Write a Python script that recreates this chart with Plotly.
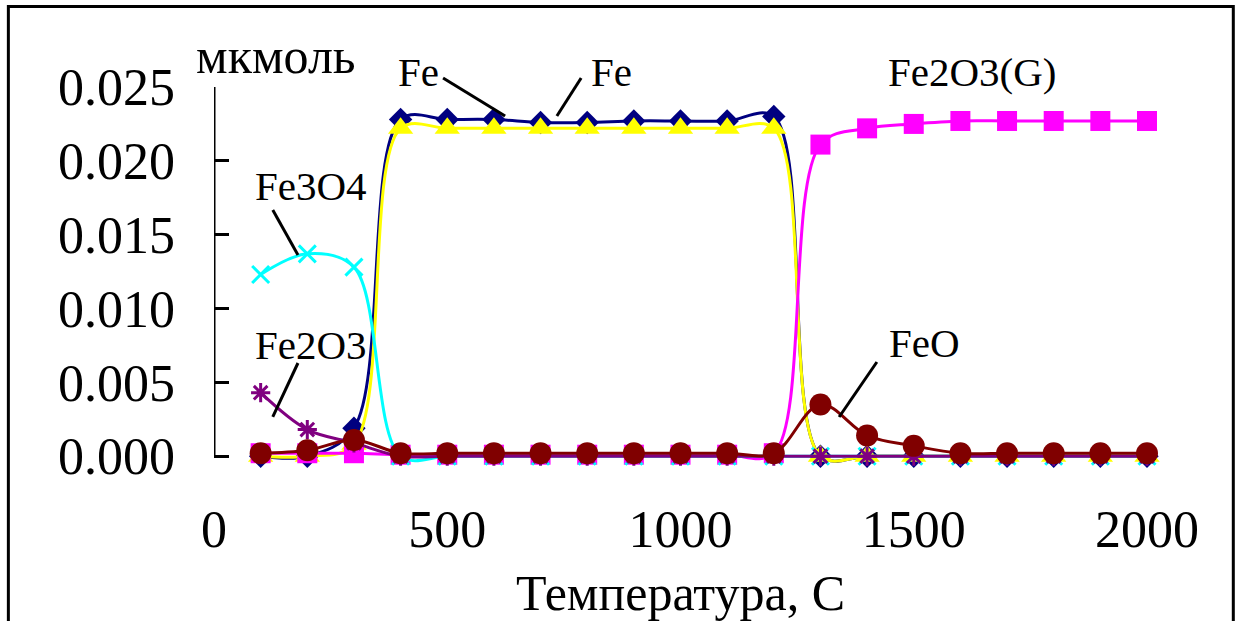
import plotly.graph_objects as go

# ---- data ----
temps = [100, 200, 300, 400, 500, 600, 700, 800, 900, 1000,
         1100, 1200, 1300, 1400, 1500, 1600, 1700, 1800, 1900, 2000]

fe_a = [0.0000, 0.0000, 0.0019, 0.0228, 0.0228, 0.0228, 0.0226, 0.0226, 0.0227, 0.0227,
        0.0227, 0.0230, 0.0000, 0.0000, 0.0000, 0.0000, 0.0000, 0.0000, 0.0000, 0.0000]
fe_b = [0.0000, 0.0000, 0.0008, 0.0222, 0.0222, 0.0222, 0.0222, 0.0222, 0.0222, 0.0222,
        0.0222, 0.0222, 0.0000, 0.0000, 0.0000, 0.0000, 0.0000, 0.0000, 0.0000, 0.0000]
fe2o3_g = [0.0002, 0.0002, 0.0002, 0.0001, 0.0001, 0.0001, 0.0001, 0.0001, 0.0001, 0.0001,
           0.0001, 0.0002, 0.0211, 0.0222, 0.0225, 0.0227, 0.0227, 0.0227, 0.0227, 0.0227]
fe3o4 = [0.0123, 0.0137, 0.0128, 0.0000, 0.0000, 0.0000, 0.0000, 0.0000, 0.0000, 0.0000,
         0.0000, 0.0000, 0.0000, 0.0000, 0.0000, 0.0000, 0.0000, 0.0000, 0.0000, 0.0000]
fe2o3 = [0.0043, 0.0018, 0.0009, 0.0000, 0.0000, 0.0000, 0.0000, 0.0000, 0.0000, 0.0000,
         0.0000, 0.0000, 0.0000, 0.0000, 0.0000, 0.0000, 0.0000, 0.0000, 0.0000, 0.0000]
feo = [0.0002, 0.0004, 0.0011, 0.0002, 0.0002, 0.0002, 0.0002, 0.0002, 0.0002, 0.0002,
       0.0002, 0.0002, 0.0035, 0.0014, 0.0007, 0.0002, 0.0002, 0.0002, 0.0002, 0.0002]

x_ticks = [0, 500, 1000, 1500, 2000]
y_ticks = [0.000, 0.005, 0.010, 0.015, 0.020, 0.025]

# series labels (x in temperature units, y as fraction of plot height)
label_text = ["Fe", "Fe", "Fe2O3(G)", "Fe3O4", "Fe2O3", "FeO"]
label_x = [439, 853, 1625, 208, 208, 1524]
label_y = [1.039, 1.039, 1.039, 0.740, 0.323, 0.328]
leader_x0 = [491, 787, None, 126, 180, 1421]
leader_y0 = [1.0236, 1.0236, None, 0.6772, 0.2756, 0.2782]
leader_x1 = [624, 735, None, 180, 126, 1340]
leader_y1 = [0.9239, 0.9239, None, 0.5591, 0.1339, 0.1339]

FONT = "Liberation Serif"

fig = go.Figure()


def add(y, color, symbol, size, open_=False):
    marker = dict(symbol=symbol, size=size, color=color)
    if open_:
        marker["line"] = dict(color=color, width=3)
    else:
        marker["line"] = dict(width=0)
    fig.add_trace(go.Scatter(
        x=temps, y=y, mode="lines+markers",
        line=dict(color=color, width=3, shape="spline", smoothing=1),
        marker=marker, showlegend=False, cliponaxis=False))


add(fe_a, "#000080", "diamond", 18)
add(fe_b, "#FFFF00", "triangle-up", 22)
add(fe2o3_g, "#FF00FF", "square", 20)
add(fe3o4, "#00FFFF", "x-thin-open", 17, open_=True)
add(fe2o3, "#800080", "asterisk-open", 16, open_=True)
add(feo, "#800000", "circle", 22)

shapes = []
# y axis line from 0 to 0.025
shapes.append(dict(type="line", xref="x", yref="y", x0=0, x1=0, y0=0, y1=0.025,
                   line=dict(color="black", width=3), layer="below"))
# small x ticks at baseline
for t in x_ticks[1:]:
    shapes.append(dict(type="line", xref="x", yref="y", x0=t, x1=t, y0=0, y1=0.0009,
                       line=dict(color="black", width=3), layer="below"))
# leader lines
for a, b, c, d in zip(leader_x0, leader_y0, leader_x1, leader_y1):
    if a is None:
        continue
    shapes.append(dict(type="line", xref="x", yref="paper", x0=a, y0=b, x1=c, y1=d,
                       line=dict(color="black", width=3)))
# outer frame
shapes.append(dict(type="rect", xref="paper", yref="paper",
                   x0=-0.2204, x1=1.0925, y0=-0.5, y1=1.2113,
                   line=dict(color="black", width=3), fillcolor="rgba(0,0,0,0)"))

annotations = []
for t, x, y in zip(label_text, label_x, label_y):
    annotations.append(dict(x=x, y=y, xref="x", yref="paper", text=t, showarrow=False,
                            xanchor="center", yanchor="middle",
                            font=dict(family=FONT, size=41, color="black")))
annotations.append(dict(x=0.0665, y=1.081, xref="paper", yref="paper", text="мкмоль",
                        showarrow=False, xanchor="center", yanchor="middle",
                        font=dict(family=FONT, size=50, color="black")))
annotations.append(dict(x=0.4995, y=-0.327, xref="paper", yref="paper",
                        text="Температура, С", showarrow=False,
                        xanchor="center", yanchor="middle",
                        font=dict(family=FONT, size=50, color="black")))

fig.update_layout(
    width=1240, height=621,
    margin=dict(l=214, r=93, t=87, b=153),
    paper_bgcolor="white", plot_bgcolor="white",
    font=dict(family=FONT, color="black"),
    showlegend=False,
    shapes=shapes, annotations=annotations,
    xaxis=dict(range=[0, 2000], tickvals=x_ticks, ticktext=[str(v) for v in x_ticks],
               showgrid=False, zeroline=False, showline=False, ticks="",
               tickfont=dict(family=FONT, size=52, color="black"),
               ticklabelstandoff=26),
    yaxis=dict(range=[-0.0008, 0.025], tickvals=y_ticks, tickformat=".3f",
               showgrid=False, zeroline=False, showline=False,
               ticks="inside", ticklen=15, tickwidth=3, tickcolor="black",
               layer="below traces",
               tickfont=dict(family=FONT, size=52, color="black"),
               ticklabelstandoff=38),
)

fig.write_html("out.html")
